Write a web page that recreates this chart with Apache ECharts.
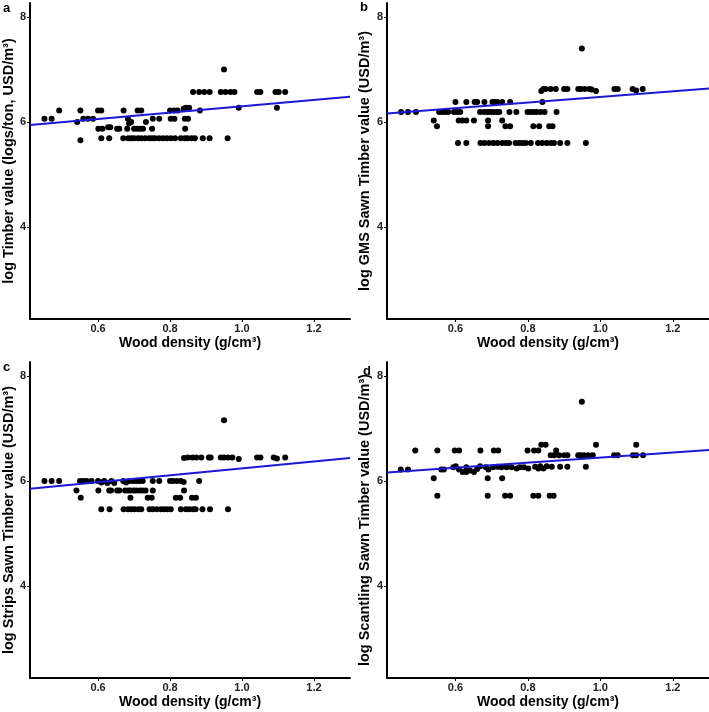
<!doctype html>
<html lang="en">
    <head>
        <meta charset="UTF-8" />
        <title>Wood density vs timber value</title>
        <script src="https://cdn.jsdelivr.net/npm/echarts@6.0.0/dist/echarts.min.js"></script>
        <style>
            body { margin: 0; background: #fff; }
        </style>
    </head>
    <body>
        <!-- Chart container -->
        <div id="main" style="width: 709px; height: 712px"></div>

        <script>
            // axis settings shared by all panels
            const xTicks = [0.6, 0.8, 1.0, 1.2];
            const yTicks = [4, 6, 8];
            const xRange = [0.411, 1.3];
            const yRange = [2.24, 8.27];

            const panelLabels = ["a", "b", "c", "d"];
            const yTitles = [
                "log Timber value (logs/ton, USD/m³)",
                "log GMS Sawn Timber value (USD/m³)",
                "log Strips Sawn Timber value (USD/m³)",
                "log Scantling Sawn Timber value (USD/m³)",
            ];
            const xTitle = "Wood density (g/cm³)";

            // points: [wood density, log value]
            const pointsA = [
                [0.95, 7.0],
                [0.864, 6.57], [0.881, 6.57], [0.895, 6.57], [0.91, 6.57], [0.941, 6.57], [0.954, 6.57],
                [0.968, 6.57], [0.979, 6.57], [1.042, 6.57], [1.051, 6.57], [1.093, 6.57], [1.102, 6.57], [1.12, 6.57],
                [0.991, 6.27], [1.097, 6.27],
                [0.492, 6.22], [0.551, 6.22], [0.6, 6.22], [0.609, 6.22], [0.671, 6.22], [0.71, 6.22], [0.72, 6.22],
                [0.8, 6.22], [0.812, 6.22], [0.821, 6.22], [0.838, 6.25], [0.844, 6.27], [0.853, 6.27], [0.883, 6.22],
                [0.451, 6.06], [0.471, 6.06], [0.559, 6.06], [0.572, 6.06], [0.586, 6.06], [0.683, 6.06],
                [0.752, 6.06], [0.77, 6.06], [0.802, 6.06], [0.812, 6.06], [0.841, 6.06], [0.85, 6.06],
                [0.542, 6.0], [0.692, 6.0], [0.733, 6.0], [0.686, 5.97],
                [0.601, 5.87], [0.612, 5.87], [0.628, 5.9], [0.634, 5.9], [0.653, 5.87], [0.659, 5.87], [0.681, 5.87],
                [0.7, 5.87], [0.709, 5.87], [0.717, 5.87], [0.725, 5.87], [0.75, 5.87], [0.842, 5.87],
                [0.551, 5.65], [0.609, 5.69], [0.631, 5.69], [0.67, 5.69], [0.684, 5.69], [0.692, 5.69], [0.7, 5.69],
                [0.711, 5.69], [0.72, 5.69], [0.731, 5.69], [0.742, 5.69], [0.75, 5.69], [0.758, 5.69], [0.769, 5.69],
                [0.78, 5.69], [0.791, 5.69], [0.802, 5.69], [0.814, 5.69], [0.83, 5.69], [0.841, 5.69], [0.849, 5.69],
                [0.86, 5.69], [0.869, 5.69], [0.891, 5.69], [0.91, 5.69], [0.96, 5.69],
            ];
            const pointsB = [
                [0.949, 7.4],
                [0.837, 6.59], [0.843, 6.63], [0.849, 6.63], [0.863, 6.63], [0.877, 6.63], [0.9, 6.63], [0.909, 6.63],
                [0.939, 6.63], [0.946, 6.63], [0.957, 6.63], [0.97, 6.63], [0.976, 6.62], [0.988, 6.59], [1.039, 6.63],
                [1.048, 6.63], [1.089, 6.63], [1.099, 6.6], [1.117, 6.63],
                [0.6, 6.38], [0.63, 6.38], [0.653, 6.38], [0.66, 6.38], [0.68, 6.38], [0.702, 6.38], [0.708, 6.38],
                [0.716, 6.38], [0.729, 6.38], [0.751, 6.38], [0.84, 6.38],
                [0.45, 6.19], [0.469, 6.19], [0.491, 6.19], [0.555, 6.19], [0.563, 6.19], [0.571, 6.19], [0.58, 6.19],
                [0.596, 6.19], [0.605, 6.19], [0.613, 6.19], [0.668, 6.19], [0.679, 6.19], [0.688, 6.19], [0.696, 6.19],
                [0.704, 6.19], [0.713, 6.19], [0.721, 6.19], [0.749, 6.19], [0.768, 6.19], [0.799, 6.19], [0.807, 6.19],
                [0.815, 6.19], [0.824, 6.19], [0.835, 6.19], [0.846, 6.19], [0.879, 6.19],
                [0.54, 6.03], [0.609, 6.03], [0.619, 6.03], [0.63, 6.03], [0.651, 6.03], [0.69, 6.03], [0.729, 6.03],
                [0.549, 5.92], [0.69, 5.92], [0.738, 5.92], [0.751, 5.92], [0.815, 5.92], [0.831, 5.92], [0.859, 5.92], [0.868, 5.92],
                [0.607, 5.6], [0.63, 5.6], [0.669, 5.6], [0.68, 5.6], [0.693, 5.6], [0.705, 5.6], [0.716, 5.6], [0.729, 5.6],
                [0.739, 5.6], [0.748, 5.6], [0.766, 5.6], [0.776, 5.6], [0.785, 5.6], [0.794, 5.6], [0.808, 5.6], [0.828, 5.6],
                [0.84, 5.6], [0.852, 5.6], [0.863, 5.6], [0.872, 5.6], [0.889, 5.6], [0.909, 5.6], [0.96, 5.6],
            ];
            const pointsC = [
                [0.95, 7.16],
                [0.839, 6.44], [0.849, 6.45], [0.862, 6.45], [0.873, 6.45], [0.887, 6.45], [0.908, 6.45], [0.913, 6.45],
                [0.941, 6.45], [0.95, 6.45], [0.961, 6.45], [0.973, 6.45], [0.991, 6.42], [1.042, 6.45], [1.051, 6.45],
                [1.088, 6.45], [1.097, 6.43], [1.12, 6.45],
                [0.451, 6.0], [0.471, 6.0], [0.492, 6.0], [0.55, 6.0], [0.559, 6.0], [0.569, 6.0], [0.582, 6.0], [0.6, 6.0],
                [0.609, 5.97], [0.617, 6.0], [0.626, 5.96], [0.637, 6.0], [0.645, 5.96], [0.67, 6.0], [0.678, 5.97],
                [0.687, 6.0], [0.697, 6.0], [0.706, 6.0], [0.715, 6.0], [0.724, 6.0], [0.752, 6.0], [0.77, 6.0], [0.8, 6.0],
                [0.808, 6.0], [0.819, 6.0], [0.83, 6.0], [0.838, 5.98], [0.881, 6.0],
                [0.54, 5.82], [0.601, 5.82], [0.631, 5.82], [0.636, 5.82], [0.653, 5.82], [0.659, 5.82], [0.675, 5.82],
                [0.683, 5.82], [0.69, 5.82], [0.699, 5.82], [0.706, 5.82], [0.716, 5.82], [0.724, 5.82], [0.732, 5.82],
                [0.752, 5.82], [0.839, 5.82],
                [0.552, 5.68], [0.69, 5.68], [0.738, 5.68], [0.749, 5.68], [0.816, 5.68], [0.828, 5.68], [0.861, 5.68], [0.872, 5.68],
                [0.609, 5.46], [0.632, 5.46], [0.671, 5.46], [0.683, 5.46], [0.692, 5.46], [0.701, 5.46], [0.712, 5.46],
                [0.72, 5.46], [0.743, 5.46], [0.752, 5.46], [0.763, 5.46], [0.775, 5.46], [0.784, 5.46], [0.793, 5.46],
                [0.802, 5.46], [0.83, 5.46], [0.844, 5.46], [0.853, 5.46], [0.864, 5.46], [0.871, 5.46], [0.89, 5.46],
                [0.911, 5.46], [0.961, 5.46],
            ];
            const pointsD = [
                [0.949, 7.51],
                [0.837, 6.69], [0.849, 6.69], [0.988, 6.69], [1.099, 6.69],
                [0.489, 6.58], [0.55, 6.58], [0.598, 6.58], [0.61, 6.58], [0.669, 6.58], [0.706, 6.58], [0.718, 6.58],
                [0.799, 6.58], [0.817, 6.58], [0.829, 6.58], [0.878, 6.58],
                [0.863, 6.49], [0.872, 6.49], [0.886, 6.49], [0.9, 6.49], [0.909, 6.49], [0.939, 6.49], [0.946, 6.49],
                [0.955, 6.49], [0.967, 6.49], [0.979, 6.49], [1.038, 6.49], [1.048, 6.49], [1.09, 6.49], [1.099, 6.49], [1.118, 6.49],
                [0.449, 6.22], [0.469, 6.22], [0.561, 6.22], [0.568, 6.22], [0.594, 6.26], [0.601, 6.28], [0.61, 6.22],
                [0.62, 6.17], [0.63, 6.26], [0.63, 6.17], [0.64, 6.2], [0.651, 6.17], [0.66, 6.23], [0.668, 6.28],
                [0.684, 6.26], [0.691, 6.22], [0.704, 6.26], [0.716, 6.27], [0.727, 6.26], [0.741, 6.26], [0.755, 6.26],
                [0.769, 6.24], [0.778, 6.26], [0.789, 6.26], [0.801, 6.24], [0.82, 6.27], [0.829, 6.24], [0.834, 6.28],
                [0.843, 6.24], [0.852, 6.28], [0.866, 6.27], [0.889, 6.27], [0.909, 6.27], [0.96, 6.27],
                [0.54, 6.05], [0.689, 6.05], [0.729, 6.05],
                [0.55, 5.72], [0.689, 5.72], [0.737, 5.72], [0.751, 5.72], [0.815, 5.72], [0.829, 5.72], [0.86, 5.72], [0.871, 5.72],
            ];

            // fitted lines (end points across the x range)
            const fitA = [[0.411, 5.94], [1.3, 6.48]];
            const fitB = [[0.411, 6.16], [1.3, 6.64]];
            const fitC = [[0.411, 5.85], [1.3, 6.44]];
            const fitD = [[0.411, 6.16], [1.3, 6.59]];

            const allPoints = [pointsA, pointsB, pointsC, pointsD];
            const allFits = [fitA, fitB, fitC, fitD];

            const myChart = echarts.init(document.getElementById("main"));

            const font = "Liberation Sans, Arial, sans-serif";
            const grids = [
                { left: 29, top: 3, width: 321, height: 316 },
                { left: 387, top: 3, width: 322, height: 316 },
                { left: 29, top: 362, width: 321, height: 316 },
                { left: 387, top: 362, width: 322, height: 316 },
            ];
            const labelPos = [
                { left: 3, top: 2 },
                { left: 360, top: 1 },
                { left: 3, top: 361 },
                { left: 363, top: 365 },
            ];

            const axisLine = { show: true, lineStyle: { color: "#000", width: 2 } };
            const axisTick = { show: true, length: 3, lineStyle: { color: "#000", width: 1 } };

            const options = {
                animation: false,
                grid: grids,
                xAxis: grids.map((g, i) => ({
                    type: "value",
                    gridIndex: i,
                    min: xRange[0],
                    max: xRange[1],
                    name: xTitle,
                    nameLocation: "middle",
                    nameGap: 17,
                    nameTextStyle: { fontFamily: font, fontWeight: "bold", fontSize: 14, color: "#000" },
                    axisLine: axisLine,
                    axisTick: Object.assign({ customValues: xTicks }, axisTick),
                    axisLabel: {
                        customValues: xTicks,
                        margin: 4,
                        fontFamily: font,
                        fontWeight: "bold",
                        fontSize: 11,
                        color: "#222",
                        formatter: (v) => v.toFixed(1),
                    },
                    splitLine: { show: false },
                })),
                yAxis: grids.map((g, i) => ({
                    type: "value",
                    gridIndex: i,
                    min: yRange[0],
                    max: yRange[1],
                    name: yTitles[i],
                    nameLocation: "middle",
                    nameGap: 13,
                    nameTextStyle: { fontFamily: font, fontWeight: "bold", fontSize: 14.5, color: "#000" },
                    axisLine: axisLine,
                    axisTick: Object.assign({ customValues: yTicks }, axisTick),
                    axisLabel: {
                        customValues: yTicks,
                        margin: 4,
                        fontFamily: font,
                        fontWeight: "bold",
                        fontSize: 11,
                        color: "#222",
                    },
                    splitLine: { show: false },
                })),
                graphic: panelLabels.map((t, i) => ({
                    type: "text",
                    left: labelPos[i].left,
                    top: labelPos[i].top,
                    style: { text: t, font: "bold 13px " + font, fill: "#000" },
                })),
                series: [],
            };

            allPoints.forEach((pts, i) => {
                options.series.push({
                    type: "scatter",
                    xAxisIndex: i,
                    yAxisIndex: i,
                    data: pts,
                    symbolSize: 6,
                    itemStyle: { color: "#000", opacity: 1 },
                    z: 2,
                });
                options.series.push({
                    type: "line",
                    xAxisIndex: i,
                    yAxisIndex: i,
                    data: allFits[i],
                    symbol: "none",
                    lineStyle: { color: "#1a1ad6", width: 2 },
                    z: 3,
                });
            });

            myChart.setOption(options);
        </script>
    </body>
</html>
